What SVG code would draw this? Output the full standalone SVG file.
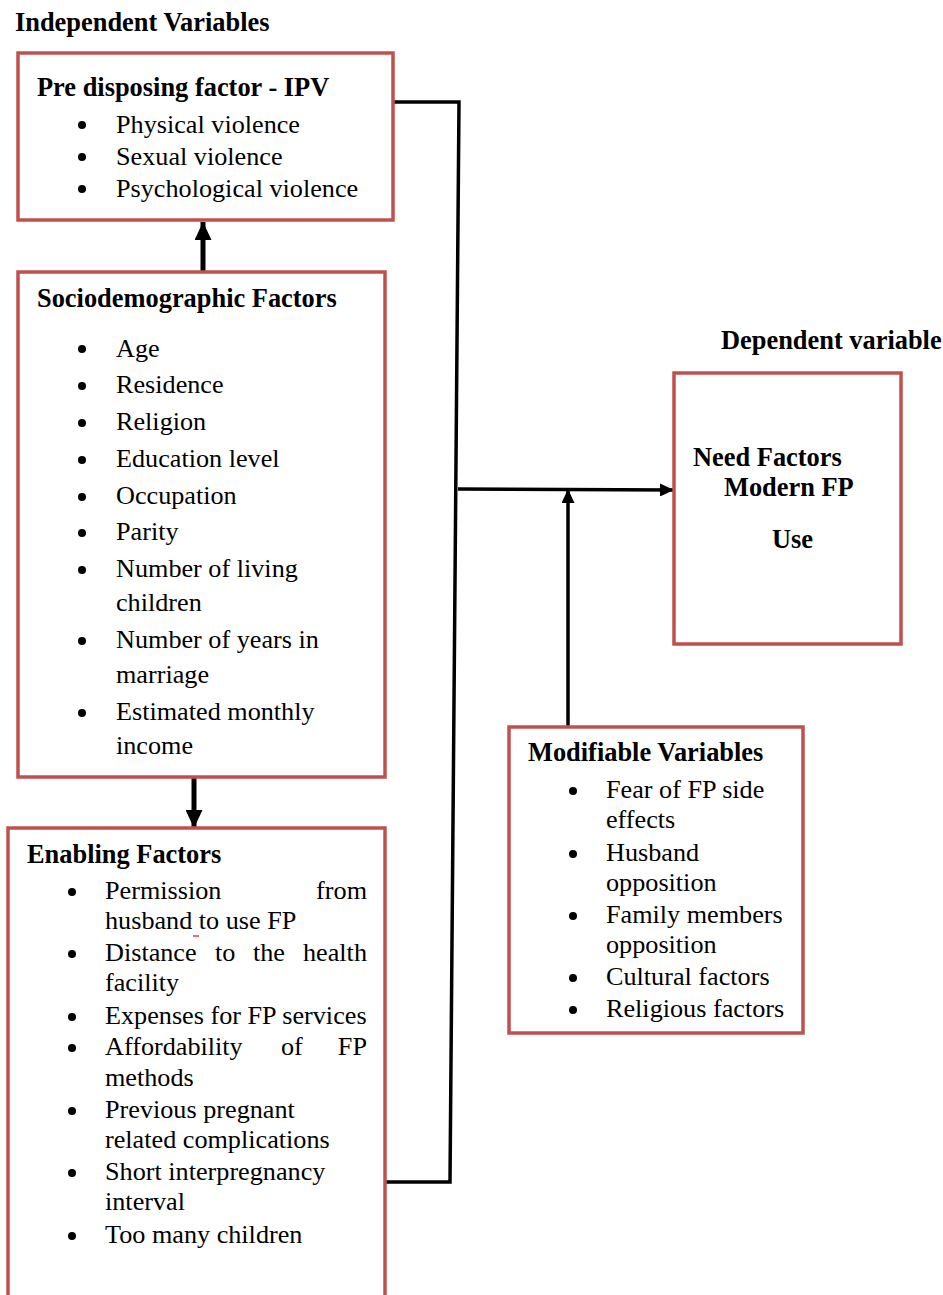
<svg xmlns="http://www.w3.org/2000/svg" width="943" height="1295" viewBox="0 0 943 1295">
<style>
.box{fill:#fff;stroke:#c0504d;stroke-width:3.5}
.t{font-family:"Liberation Serif","Times New Roman",serif;font-size:26.2px;fill:#000}
.b{font-family:"Liberation Serif","Times New Roman",serif;font-size:26.4px;font-weight:bold;fill:#000}
.con{fill:none;stroke:#000;stroke-width:3.5}
.thick{fill:none;stroke:#000;stroke-width:5}
</style>
<defs>
<marker id="ah" markerWidth="14" markerHeight="13" refX="14" refY="6.5" orient="auto" markerUnits="userSpaceOnUse" viewBox="0 0 14 13">
<path d="M0,0 L14,6.5 L0,13 Z" fill="#000"/>
</marker>
<marker id="ahb" markerWidth="18" markerHeight="17" refX="18" refY="8.5" orient="auto" markerUnits="userSpaceOnUse" viewBox="0 0 18 17">
<path d="M0,0 L18,8.5 L0,17 Z" fill="#000"/>
</marker>
</defs>
<rect width="943" height="1295" fill="#fff"/>
<text class="b" x="15" y="31">Independent Variables</text>
<text class="b" x="721" y="349">Dependent variable</text>

<g id="connectors">
<path class="con" d="M393,102 L459,102 L450,1182 L385,1182"/>
<line class="con" x1="458" y1="489" x2="674" y2="490" marker-end="url(#ah)"/>
<line class="con" x1="568" y1="727" x2="568" y2="489" marker-end="url(#ah)"/>
<line class="thick" x1="203" y1="272" x2="203" y2="222" marker-end="url(#ahb)"/>
<line class="thick" x1="194" y1="778" x2="194" y2="828" marker-end="url(#ahb)"/>
</g>

<g id="predisposing">
<rect class="box" x="18" y="53" width="375" height="167"/>
<text class="b" x="37" y="96">Pre disposing factor - IPV</text>
<circle cx="82" cy="125" r="4"/><text class="t" x="116" y="133">Physical violence</text>
<circle cx="82" cy="157" r="4"/><text class="t" x="116" y="165">Sexual violence</text>
<circle cx="82" cy="189" r="4"/><text class="t" x="116" y="197">Psychological violence</text>
</g>

<g id="sociodemographic">
<rect class="box" x="18" y="272" width="367" height="505"/>
<text class="b" x="37" y="307">Sociodemographic Factors</text>
<circle cx="82" cy="349" r="4"/><text class="t" x="116" y="357">Age</text>
<circle cx="82" cy="386" r="4"/><text class="t" x="116" y="393">Residence</text>
<circle cx="82" cy="423" r="4"/><text class="t" x="116" y="430">Religion</text>
<circle cx="82" cy="460" r="4"/><text class="t" x="116" y="467">Education level</text>
<circle cx="82" cy="497" r="4"/><text class="t" x="116" y="504">Occupation</text>
<circle cx="82" cy="533" r="4"/><text class="t" x="116" y="540">Parity</text>
<circle cx="82" cy="570" r="4"/><text class="t" x="116" y="577">Number of living</text>
<text class="t" x="116" y="611">children</text>
<circle cx="82" cy="641" r="4"/><text class="t" x="116" y="648">Number of years in</text>
<text class="t" x="116" y="683">marriage</text>
<circle cx="82" cy="713" r="4"/><text class="t" x="116" y="720">Estimated monthly</text>
<text class="t" x="116" y="754">income</text>
</g>

<g id="enabling">
<rect class="box" x="8" y="828" width="377" height="480"/>
<text class="b" x="27" y="863">Enabling Factors</text>
<circle cx="72" cy="892" r="4"/><text class="t" x="105" y="899">Permission</text><text class="t" x="367" y="899" text-anchor="end">from</text>
<text class="t" x="105" y="929">husband to use FP</text>
<line x1="193" y1="936" x2="199" y2="936" stroke="#e04040" stroke-width="1.5"/>
<circle cx="72" cy="954" r="4"/><text class="t" x="105" y="961">Distance</text><text class="t" x="215" y="961">to</text><text class="t" x="253" y="961">the</text><text class="t" x="367" y="961" text-anchor="end">health</text>
<text class="t" x="105" y="991">facility</text>
<circle cx="72" cy="1017" r="4"/><text class="t" x="105" y="1024">Expenses for FP services</text>
<circle cx="72" cy="1048" r="4"/><text class="t" x="105" y="1055">Affordability</text><text class="t" x="281" y="1055">of</text><text class="t" x="367" y="1055" text-anchor="end">FP</text>
<text class="t" x="105" y="1086">methods</text>
<circle cx="72" cy="1111" r="4"/><text class="t" x="105" y="1118">Previous pregnant</text>
<text class="t" x="105" y="1148">related complications</text>
<circle cx="72" cy="1173" r="4"/><text class="t" x="105" y="1180">Short interpregnancy</text>
<text class="t" x="105" y="1210">interval</text>
<circle cx="72" cy="1236" r="4"/><text class="t" x="105" y="1243">Too many children</text>
</g>

<g id="dependent">
<rect class="box" x="674" y="373" width="227" height="271"/>
<text class="b" x="693" y="466">Need Factors</text>
<text class="b" x="724" y="496">Modern FP</text>
<text class="b" x="772" y="548">Use</text>
</g>

<g id="modifiable">
<rect class="box" x="509" y="727" width="294" height="306"/>
<text class="b" x="528" y="761">Modifiable Variables</text>
<circle cx="573" cy="791" r="4"/><text class="t" x="606" y="798">Fear of FP side</text>
<text class="t" x="606" y="828">effects</text>
<circle cx="573" cy="854" r="4"/><text class="t" x="606" y="861">Husband</text>
<text class="t" x="606" y="891">opposition</text>
<circle cx="573" cy="916" r="4"/><text class="t" x="606" y="923">Family members</text>
<text class="t" x="606" y="953">opposition</text>
<circle cx="573" cy="978" r="4"/><text class="t" x="606" y="985">Cultural factors</text>
<circle cx="573" cy="1010" r="4"/><text class="t" x="606" y="1017">Religious factors</text>
</g>
</svg>
